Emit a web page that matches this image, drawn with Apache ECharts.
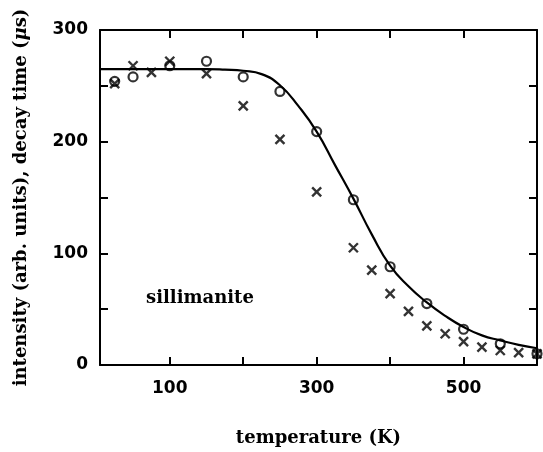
<!DOCTYPE html>
<html>
<head>
<meta charset="utf-8">
<script src="https://cdn.jsdelivr.net/npm/echarts@6.0.0/dist/echarts.min.js"></script>
<style>
  html, body { margin: 0; padding: 0; background: #fff; }
  #chart { width: 543px; height: 452px; }
</style>
</head>
<body>
<div id="chart"></div>
<script>
// decay time, open circles
const circleTemps = [25, 50, 100, 150, 200, 250, 300, 350, 400, 450, 500, 550, 600];
const circleValues = [254, 258, 268, 272, 258, 245, 209, 148, 88, 55, 32, 19, 10];

// intensity, crosses
const crossTemps = [25, 50, 75, 100, 150, 200, 250, 300, 350, 375, 400, 425, 450, 475, 500, 525, 550, 575, 600];
const crossValues = [252, 268, 262, 272, 261, 232, 202, 155, 105, 85, 64, 48, 35, 28, 21, 16, 13, 11, 10];

// fitted curve
const fitTemps = [5, 50, 100, 150, 175, 200, 225, 250, 275, 300, 325, 350, 375, 400, 425, 450, 475, 500, 525, 550, 575, 600];
const fitValues = [265, 265, 265, 265, 264.5, 263.5, 260.5, 250.5, 232, 209, 179, 149, 117, 89, 70.5, 56, 44, 34, 26.5, 22, 18, 15];

const xTicks = [100, 200, 300, 400, 500, 600];
const xLabels = [100, 300, 500];
const yTicks = [50, 100, 150, 200, 250];
const yLabels = [0, 100, 200, 300];

const pair = (xs, ys) => xs.map((x, i) => [x, ys[i]]);

const black = "#000";
const lineStyle = { color: black, width: 2 };
const labelFont = {
  color: black,
  fontFamily: "DejaVu Sans",
  fontWeight: "bold",
  fontSize: 17,
};
const nameFont = {
  color: black,
  fontFamily: "DejaVu Serif",
  fontWeight: "bold",
  fontSize: 18,
};

const myChart = echarts.init(document.getElementById("chart"));

const option = {
  backgroundColor: "#fff",
  animation: false,
  grid: { left: 100, right: 6, top: 30, bottom: 87 },
  xAxis: [
    {
      type: "value",
      min: 5,
      max: 600,
      position: "bottom",
      name: "temperature (K)",
      nameLocation: "middle",
      nameGap: 64,
      nameTextStyle: nameFont,
      axisLine: { onZero: false, lineStyle },
      axisTick: { inside: true, length: 8, customValues: xTicks, lineStyle },
      axisLabel: Object.assign({ margin: 15, customValues: xLabels }, labelFont),
      splitLine: { show: false },
    },
    {
      type: "value",
      min: 5,
      max: 600,
      position: "top",
      axisLine: { onZero: false, lineStyle },
      axisTick: { inside: true, length: 8, customValues: xTicks, lineStyle },
      axisLabel: { show: false },
      splitLine: { show: false },
    },
  ],
  yAxis: [
    {
      type: "value",
      min: 0,
      max: 300,
      position: "left",
      name: "intensity (arb. units), decay time ({mu|μ}s)",
      nameLocation: "middle",
      nameGap: 70,
      nameTextStyle: Object.assign({}, nameFont, {
        rich: {
          mu: Object.assign({}, nameFont, { fontStyle: "italic" }),
        },
      }),
      axisLine: { onZero: false, lineStyle },
      axisTick: { inside: true, length: 8, customValues: yTicks, lineStyle },
      axisLabel: Object.assign({ margin: 12, customValues: yLabels }, labelFont),
      splitLine: { show: false },
    },
    {
      type: "value",
      min: 0,
      max: 300,
      position: "right",
      axisLine: { onZero: false, lineStyle },
      axisTick: { inside: true, length: 8, customValues: yTicks, lineStyle },
      axisLabel: { show: false },
      splitLine: { show: false },
    },
  ],
  graphic: [
    {
      type: "text",
      left: 146,
      top: 289,
      style: {
        text: "sillimanite",
        fill: black,
        font: "bold 18px 'DejaVu Serif'",
      },
    },
  ],
  series: [
    {
      name: "fit",
      type: "line",
      data: pair(fitTemps, fitValues),
      smooth: 0.5,
      showSymbol: false,
      lineStyle: { color: black, width: 2.2 },
      z: 2,
    },
    {
      name: "decay time",
      type: "scatter",
      data: pair(circleTemps, circleValues),
      symbol: "circle",
      symbolSize: 9,
      itemStyle: { color: "transparent", borderColor: black, borderWidth: 2.2 },
      z: 3,
    },
    {
      name: "intensity",
      type: "scatter",
      data: pair(crossTemps, crossValues),
      symbol: "path://M0,0L10,10M0,10L10,0",
      symbolSize: 9,
      itemStyle: { color: "transparent", borderColor: black, borderWidth: 2.4 },
      z: 3,
    },
  ],
};

myChart.setOption(option);
</script>
</body>
</html>
